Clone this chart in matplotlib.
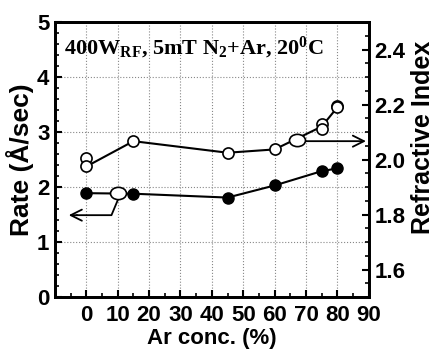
import matplotlib
matplotlib.use("Agg")
import matplotlib.pyplot as plt
from matplotlib.path import Path
from matplotlib.transforms import Affine2D
from matplotlib.ticker import MultipleLocator

plt.rcParams['mathtext.fontset'] = 'custom'
plt.rcParams['mathtext.rm'] = 'Liberation Serif:bold'
plt.rcParams['mathtext.bf'] = 'Liberation Serif:bold'
plt.rcParams['mathtext.it'] = 'Liberation Serif:bold'

ar_rate = [0, 15, 45, 60, 75, 80]
rate = [1.89, 1.88, 1.81, 2.03, 2.29, 2.34]

ar_ri = [0, 0, 15, 45, 60, 75, 75, 80, 80]
ri = [2.005, 1.975, 2.067, 2.025, 2.037, 2.128, 2.113, 2.195, 2.19]
ar_ri_line = [0, 15, 45, 60, 75, 80]
ri_line = [1.975, 2.067, 2.025, 2.037, 2.12, 2.19]

xticks = [0, 10, 20, 30, 40, 50, 60, 70, 80, 90]
yticks_left = [0, 1, 2, 3, 4, 5]
yticks_right = [1.6, 1.8, 2.0, 2.2, 2.4]

fig = plt.figure(figsize=(4.4, 3.5), dpi=100)
ax = fig.add_axes([0.125, 0.151, 0.713, 0.786])
ax2 = ax.twinx()

lw = 1.5
ax.plot(ar_rate, rate, '-', color='black', lw=lw, zorder=3)
ax.plot(ar_rate, rate, 'o', color='black', ms=8, zorder=4)

ax2.plot(ar_ri_line, ri_line, '-', color='black', lw=lw, zorder=3)
ax2.plot(ar_ri, ri, 'o', mfc='white', mec='black', mew=1.2, ms=8, zorder=4)

# ellipse markers for series annotation
ell = Path.unit_circle().transformed(Affine2D().scale(1.3, 1.0))
ax.plot([10], [1.89], marker=ell, mfc='white', mec='black', mew=1.2, ms=11.5,
        zorder=5, ls='none')
ax2.plot([67], [2.07], marker=ell, mfc='white', mec='black', mew=1.2, ms=11.5,
         zorder=5, ls='none')

# arrows
ax.plot([10.2, 8.0, -3], [1.79, 1.49, 1.49], color='black', lw=1.3, zorder=2)
ax.annotate('', xy=(-6.5, 1.49), xytext=(-2, 1.49),
            arrowprops=dict(arrowstyle='->', color='black', lw=1.3, mutation_scale=20))
ax2.annotate('', xy=(90, 2.067), xytext=(69, 2.067),
             arrowprops=dict(arrowstyle='->', color='black', lw=1.3, mutation_scale=20))

ax.set_xlim(-10, 90)
ax.set_ylim(0, 5)
ax2.set_ylim(1.5, 2.5)

ax.set_xticks(xticks)
ax.set_yticks(yticks_left)
ax2.set_yticks(yticks_right)
ax.xaxis.set_minor_locator(MultipleLocator(5))
ax.yaxis.set_minor_locator(MultipleLocator(0.2))
ax2.yaxis.set_minor_locator(MultipleLocator(0.05))

ax.grid(True, which='major', ls=':', color='#888888', lw=0.8)

tfont = dict(family='Liberation Sans', weight='bold', size=16)
ax.set_xticklabels([str(v) for v in xticks], fontdict=tfont)
ax.set_yticklabels([str(v) for v in yticks_left], fontdict=tfont)
ax2.set_yticklabels(['%.1f' % v for v in yticks_right], fontdict=tfont)

for a in (ax, ax2):
    a.tick_params(which='major', direction='in', length=5, width=1.5, pad=4)
    a.tick_params(which='minor', direction='in', length=3, width=1.2)
    for s in a.spines.values():
        s.set_linewidth(2)
ax.tick_params(axis='x', pad=6)

ax.set_xlabel('Ar conc. (%)', family='Liberation Sans', weight='bold', size=16, labelpad=1)
ax.set_ylabel('Rate (Å/sec)', family='Liberation Sans', weight='bold', size=19, labelpad=2)
ax2.set_ylabel('Refractive Index', family='Liberation Sans', weight='bold', size=18)
ax2.yaxis.set_label_coords(1.135, 0.58)

ax.text(0.03, 0.905, r'400W$_{\mathrm{RF}}$, 5mT N$_{\mathrm{2}}$+Ar, 20$^{\mathrm{0}}$C',
        transform=ax.transAxes, family='Liberation Serif', weight='bold', size=16,
        va='center', ha='left')

fig.savefig('out.png', dpi=100)
